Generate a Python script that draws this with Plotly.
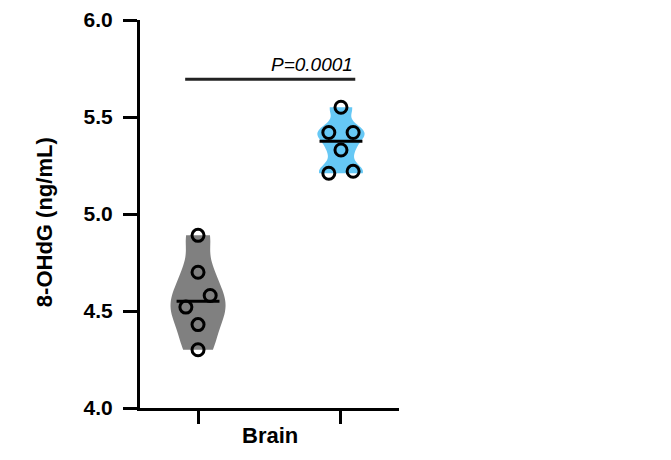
import numpy as np
import plotly.graph_objects as go

groups = ["Group A", "Group B"]
group_a = [4.89, 4.70, 4.58, 4.52, 4.43, 4.30]
group_b = [5.55, 5.42, 5.42, 5.33, 5.22, 5.21]
colors = ["rgb(128,128,128)", "rgb(102,200,245)"]
widths = [0.385, 0.33]
p_text = "P=0.0001"
x_label = "Brain"
y_label = "8-OHdG (ng/mL)"
y_ticks = [4.0, 4.5, 5.0, 5.5, 6.0]

FONT = "Arial, Liberation Sans, sans-serif"


def swarm_offsets(vals, thresh=0.07, step=0.085):
    vals = np.asarray(vals, dtype=float)
    order = np.argsort(vals)
    off = np.zeros(len(vals))
    i = 0
    while i < len(order):
        j = i
        while j + 1 < len(order) and vals[order[j + 1]] - vals[order[j]] < thresh:
            j += 1
        n = j - i + 1
        if n > 1:
            offs = (np.arange(n) - (n - 1) / 2) * 2 * step / (n - 1)
            for k, idx in enumerate(order[i:j + 1]):
                off[idx] = offs[k]
        i = j + 1
    return off


fig = go.Figure()
data = [group_a, group_b]
bws = [0.085, 0.045]
for gi, vals in enumerate(data):
    fig.add_trace(go.Violin(
        x=[gi] * len(vals), y=vals, x0=gi,
        fillcolor=colors[gi], line=dict(color=colors[gi], width=0),
        opacity=1, points=False, spanmode="hard", width=widths[gi],
        bandwidth=bws[gi], scalemode="width", hoveron="violins",
        showlegend=False, box_visible=False, meanline_visible=False,
    ))

for gi, vals in enumerate(data):
    med = float(np.median(vals))
    fig.add_trace(go.Scatter(
        x=[gi - 0.15, gi + 0.15], y=[med, med], mode="lines",
        line=dict(color="black", width=3), showlegend=False,
    ))
    off = swarm_offsets(vals)
    fig.add_trace(go.Scatter(
        x=gi + off, y=vals, mode="markers",
        marker=dict(symbol="circle-open", size=12, color="black",
                    line=dict(color="black", width=3)),
        showlegend=False,
    ))

# significance bar
bar_y = 5.695
fig.add_trace(go.Scatter(
    x=[-0.09, 1.10], y=[bar_y, bar_y], mode="lines",
    line=dict(color="#222222", width=3), showlegend=False,
))
fig.add_annotation(x=1.10, y=bar_y, xref="x", yref="y", text="<i>" + p_text + "</i>",
                   showarrow=False, xanchor="right", yanchor="bottom", yshift=2,
                   font=dict(family=FONT, size=19, color="black"))

fig.add_annotation(x=0.5, y=0, xref="x", yref="paper", text="<b>" + x_label + "</b>",
                   showarrow=False, yanchor="middle", yshift=-27,
                   font=dict(family=FONT, size=22, color="black"))
fig.add_annotation(x=0, y=0.479, xref="paper", yref="paper", text="<b>" + y_label + "</b>",
                   showarrow=False, textangle=-90, xanchor="center", xshift=-96,
                   font=dict(family=FONT, size=22, color="black"))

fig.update_layout(
    width=671, height=460,
    margin=dict(l=132, r=280, t=12, b=60, autoexpand=False),
    plot_bgcolor="white", paper_bgcolor="white",
    font=dict(family=FONT, size=21, color="black"),
    showlegend=False,
    xaxis=dict(range=[-0.406, 1.406], tickvals=[0, 1], ticktext=["", ""],
               showline=True, linecolor="black", linewidth=3, automargin=False,
               ticks="outside", ticklen=13, tickwidth=3, tickcolor="black",
               showgrid=False, zeroline=False),
    yaxis=dict(range=[4, 6], tickvals=y_ticks,
               ticktext=["<b>%.1f</b>" % v for v in y_ticks],
               showline=True, linecolor="black", linewidth=3, automargin=False,
               ticks="outside", ticklen=14, tickwidth=3, tickcolor="black",
               ticklabelstandoff=6,
               showgrid=False, zeroline=False),
)

fig.write_html("out.html")
